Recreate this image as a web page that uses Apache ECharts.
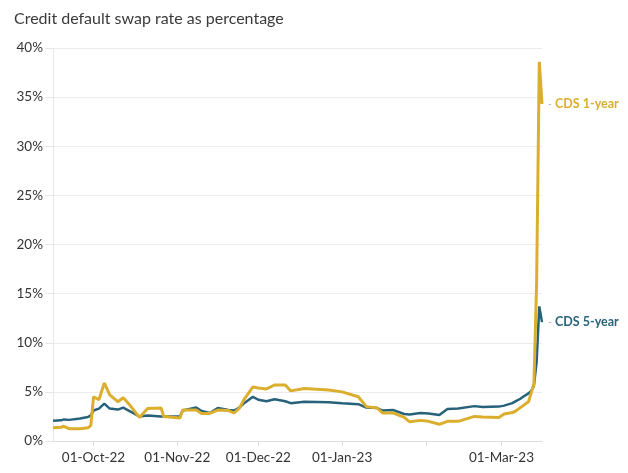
<!DOCTYPE html>
<html>
<head>
<meta charset="utf-8">
<style>
  html, body { margin: 0; padding: 0; background: #fff; }
  #chart { width: 628px; height: 473px; }
</style>
<script src="https://cdn.jsdelivr.net/npm/echarts@6/dist/echarts.min.js"></script>
</head>
<body>
<div id="chart"></div>
<script>
  // dates (yyyy-mm-dd)
  const dates = [
    '2022-09-16', '2022-09-19', '2022-09-20', '2022-09-22', '2022-09-26', '2022-09-29', '2022-09-30',
    '2022-10-01', '2022-10-03', '2022-10-05', '2022-10-07', '2022-10-10', '2022-10-12', '2022-10-14',
    '2022-10-18', '2022-10-21', '2022-10-26', '2022-10-27', '2022-11-02', '2022-11-03', '2022-11-08',
    '2022-11-10', '2022-11-13', '2022-11-16', '2022-11-20', '2022-11-22', '2022-11-24', '2022-11-26',
    '2022-11-29', '2022-12-01', '2022-12-04', '2022-12-07', '2022-12-11', '2022-12-13', '2022-12-18',
    '2022-12-27', '2023-01-01', '2023-01-07', '2023-01-10', '2023-01-14', '2023-01-16', '2023-01-20',
    '2023-01-24', '2023-01-26', '2023-01-30', '2023-02-02', '2023-02-06', '2023-02-09', '2023-02-13',
    '2023-02-19', '2023-02-22', '2023-02-28', '2023-03-02', '2023-03-05', '2023-03-06', '2023-03-08',
    '2023-03-09', '2023-03-11', '2023-03-12', '2023-03-13', '2023-03-14', '2023-03-15', '2023-03-16'
  ];
  const cds5y = [
    2.05, 2.1, 2.2, 2.15, 2.3, 2.45, 2.6,
    3.1, 3.3, 3.8, 3.3, 3.2, 3.4, 3.1,
    2.5, 2.6, 2.5, 2.5, 2.5, 3.1, 3.4,
    3.05, 2.85, 3.35, 3.15, 3.1, 3.4, 3.9,
    4.5, 4.2, 4.05, 4.25, 4.05, 3.85, 4.0,
    3.95, 3.85, 3.75, 3.4, 3.35, 3.1, 3.15,
    2.75, 2.7, 2.85, 2.8, 2.65, 3.25, 3.3,
    3.55, 3.45, 3.5, 3.6, 3.85, 4.0, 4.3,
    4.5, 4.85, 5.1, 5.6, 8.0, 13.7, 12.1
  ];
  const cds1y = [
    1.35, 1.4, 1.5, 1.25, 1.25, 1.35, 1.6,
    4.5, 4.2, 5.9, 4.7, 4.0, 4.4, 3.8,
    2.4, 3.3, 3.35, 2.5, 2.35, 3.15, 3.15,
    2.8, 2.8, 3.15, 3.1, 2.85, 3.35, 4.35,
    5.5, 5.4, 5.3, 5.7, 5.7, 5.1, 5.35,
    5.2, 5.0, 4.5, 3.5, 3.35, 2.85, 2.85,
    2.4, 1.95, 2.1, 2.0, 1.7, 2.0, 2.0,
    2.5, 2.45, 2.4, 2.75, 2.9, 3.0, 3.4,
    3.6, 4.0, 4.9, 5.8, 16, 38.6, 34.3
  ];
  const tickDates = ['2022-10-01', '2022-11-01', '2022-12-01', '2023-01-01', '2023-02-01', '2023-03-01'];
  const labelDates = ['2022-10-01', '2022-11-01', '2022-12-01', '2023-01-01', '2023-03-01'];
  const months = ['Jan', 'Feb', 'Mar', 'Apr', 'May', 'Jun', 'Jul', 'Aug', 'Sep', 'Oct', 'Nov', 'Dec'];

  const toTime = s => {
    const [y, m, d] = s.split('-').map(Number);
    return new Date(y, m - 1, d).getTime();
  };
  const pad = n => (n < 10 ? '0' + n : '' + n);
  const fmtDate = v => {
    const d = new Date(v);
    return pad(d.getDate()) + '-' + months[d.getMonth()] + '-' + String(d.getFullYear()).slice(2);
  };

  const blue = '#27627b';
  const gold = '#dcae2e';
  const font = 'Lato, "Noto Sans", sans-serif';

  const chart = echarts.init(document.getElementById('chart'));

  const lineSeries = (name, values, color, width, label) => ({
    name: name,
    type: 'line',
    data: dates.map((d, i) => [toTime(d), values[i]]),
    showSymbol: false,
    symbol: 'none',
    lineStyle: { color: color, width: width },
    itemStyle: { color: color },
    endLabel: {
      show: true,
      distance: 6,
      formatter: '{d|-} {n|' + label + '}',
      rich: {
        d: { color: '#aaa', fontSize: 10, fontFamily: font },
        n: { color: color, fontSize: 12.5, fontWeight: 'bold', fontFamily: font }
      }
    },
    emphasis: { disabled: true }
  });

  chart.setOption({
    animation: false,
    title: {
      text: 'Credit default swap rate as percentage',
      left: 9,
      top: 6,
      textStyle: { color: '#3a3a3a', fontSize: 16, fontWeight: 'normal', fontFamily: font }
    },
    grid: { left: 53, right: 86, top: 48, bottom: 32 },
    xAxis: {
      type: 'value',
      min: toTime('2022-09-16'),
      max: toTime('2023-03-16'),
      axisLine: { show: true, lineStyle: { color: '#ddd' } },
      axisTick: {
        show: true,
        length: 5,
        lineStyle: { color: '#ddd' },
        customValues: tickDates.map(toTime)
      },
      axisLabel: {
        color: '#333',
        fontSize: 13.5,
        fontFamily: font,
        margin: 10,
        customValues: labelDates.map(toTime),
        formatter: v => fmtDate(v)
      },
      splitLine: { show: false }
    },
    yAxis: {
      type: 'value',
      min: 0,
      max: 40,
      interval: 5,
      axisLine: { show: true, lineStyle: { color: '#e6e6e6' } },
      axisTick: { show: true, length: 8, lineStyle: { color: '#e6e6e6' } },
      axisLabel: {
        color: '#333',
        fontSize: 13.5,
        fontFamily: font,
        margin: 10,
        formatter: '{value}%'
      },
      splitLine: { lineStyle: { color: '#ececec' } }
    },
    series: [
      lineSeries('CDS 5-year', cds5y, blue, 2.5, 'CDS 5-year'),
      lineSeries('CDS 1-year', cds1y, gold, 3, 'CDS 1-year')
    ]
  });
</script>
</body>
</html>
